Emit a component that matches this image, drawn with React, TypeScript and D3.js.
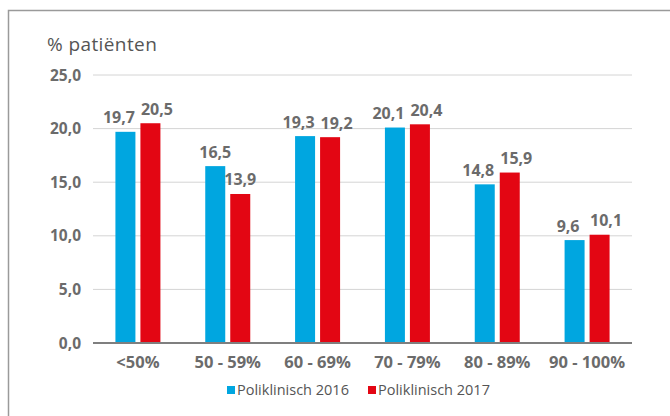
import * as d3 from "d3";

const categories = ["<50%", "50 - 59%", "60 - 69%", "70 - 79%", "80 - 89%", "90 - 100%"];
const series2016 = [19.7, 16.5, 19.3, 20.1, 14.8, 9.6];
const series2017 = [20.5, 13.9, 19.2, 20.4, 15.9, 10.1];
const seriesNames = ["Poliklinisch 2016", "Poliklinisch 2017"];
const yTicks = [0, 5, 10, 15, 20, 25];

const colors = ["#00a6e0", "#e30613"];
const textColor = "#6b6b6b";
const font = "'Open Sans', 'DejaVu Sans', sans-serif";

export default function App() {
  const width = 670;
  const height = 416;
  const left = 93;
  const right = 632;
  const top = 75;
  const bottom = 343;

  const x = d3.scaleBand<string>().domain(categories).range([left, right]);
  const y = d3.scaleLinear().domain([0, 25]).range([bottom, top]);
  const barW = 20;
  const gap = 5;
  const labelW = 34;
  const fmt = (v: number) => v.toFixed(1).replace(".", ",");

  const rows = categories.map((c, i) => ({ c, vals: [series2016[i], series2017[i]] }));

  return (
    <svg
      width={width}
      height={height}
      style={{ position: "fixed", left: 0, top: 0, background: "#fff" }}
      fontFamily={font}
    >
      {/* frame */}
      <path d={`M8.5,${height} V10.5 H${width}`} fill="none" stroke="#9a9a9a" strokeWidth={1.5} />

      <text x={47} y={51} fontSize={19} letterSpacing={0.4} fill="#555">
        % patiënten
      </text>

      {/* grid */}
      {yTicks.map((t) => (
        <g key={t}>
          {t > 0 && (
            <line x1={left} x2={right} y1={y(t)} y2={y(t)} stroke="#d4d4d4" strokeWidth={1} />
          )}
          <text
            x={81}
            y={y(t) + 5.5}
            textAnchor="end"
            fontSize={15.5}
            fontWeight="bold"
            fill={textColor}
          >
            {fmt(t)}
          </text>
        </g>
      ))}

      {/* bars */}
      {rows.map((r) => {
        const cx = (x(r.c) ?? 0) + x.bandwidth() / 2;
        const centers = [cx - gap / 2 - barW / 2, cx + gap / 2 + barW / 2];
        // push the two value labels apart when they sit at about the same height
        const ys = r.vals.map((v) => y(v) - 8.5);
        const need = labelW + 4 - (centers[1] - centers[0]);
        const push = Math.abs(ys[0] - ys[1]) < 14 && need > 0 ? need / 2 : 0;
        return (
          <g key={r.c}>
            {r.vals.map((v, k) => {
              const bx = centers[k] - barW / 2;
              const lx = centers[k] + (k === 0 ? -push : push);
              return (
                <g key={k}>
                  <rect x={bx} y={y(v)} width={barW} height={bottom - y(v)} fill={colors[k]} />
                  <text
                    x={lx}
                    y={ys[k]}
                    textAnchor="middle"
                    fontSize={16}
                    fontWeight="bold"
                    fill={textColor}
                  >
                    {fmt(v)}
                  </text>
                </g>
              );
            })}
            <text
              x={cx}
              y={367.5}
              textAnchor="middle"
              fontSize={16.5}
              fontWeight="bold"
              fill={textColor}
            >
              {r.c}
            </text>
          </g>
        );
      })}

      {/* x axis */}
      <line x1={left} x2={right} y1={bottom} y2={bottom} stroke="#7f7f7f" strokeWidth={2} />

      {/* legend */}
      {seriesNames.map((n, k) => {
        const lx = k === 0 ? 227 : 368;
        return (
          <g key={n}>
            <rect x={lx} y={386} width={8} height={8} fill={colors[k]} />
            <text x={lx + 10} y={395} fontSize={14.5} fill="#555">
              {n}
            </text>
          </g>
        );
      })}
    </svg>
  );
}
